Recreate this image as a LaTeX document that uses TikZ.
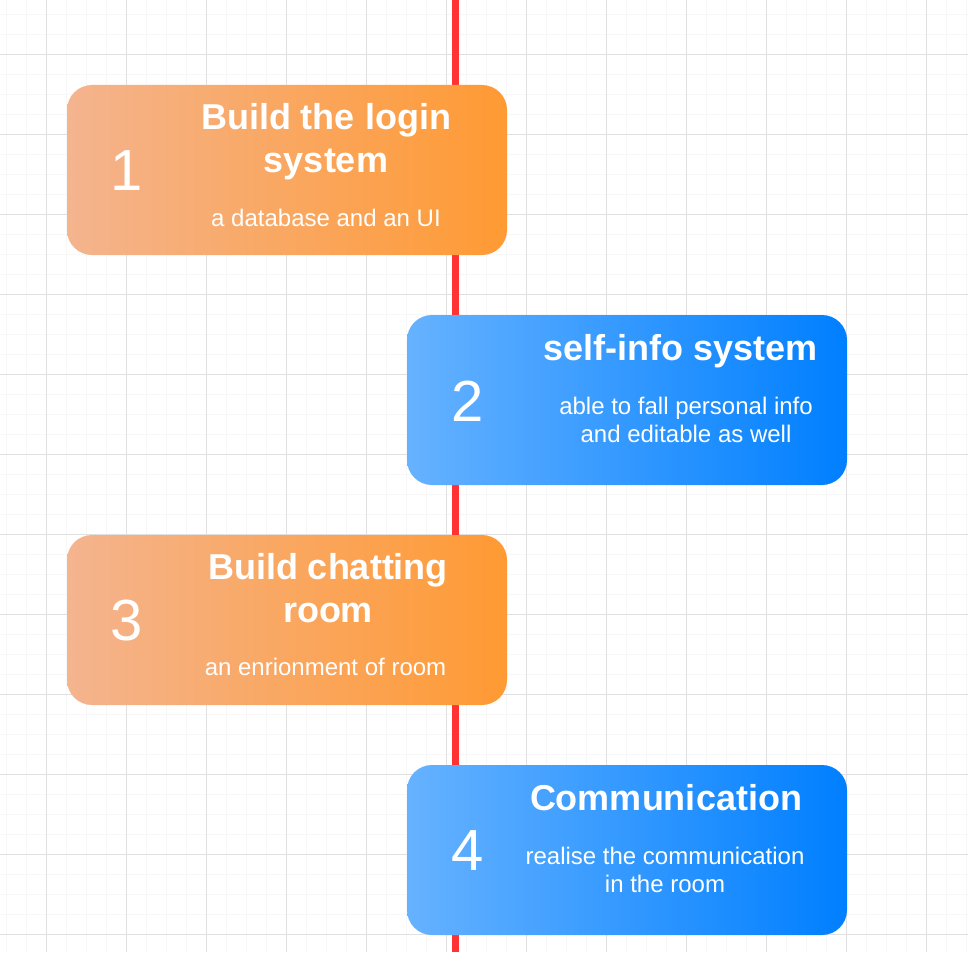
\documentclass[tikz,border=0pt]{standalone}
\usepackage{fontspec}
\setmainfont{Liberation Sans}
\usetikzlibrary{positioning}

\definecolor{orangeL}{HTML}{F4B48E}
\definecolor{orangeR}{HTML}{FF9A33}
\definecolor{blueL}{HTML}{66B2FF}
\definecolor{blueR}{HTML}{007FFF}
\definecolor{gridmajor}{HTML}{E0E0E0}
\definecolor{gridminor}{HTML}{F7F7F7}
\definecolor{timered}{HTML}{FF3333}

\begin{document}
\begin{tikzpicture}[x=1pt,y=-1pt]

\tikzstyle{stepbox}=[rectangle,rounded corners=25pt,minimum width=440pt,minimum height=170pt,inner sep=0pt]
\tikzstyle{orangebox}=[stepbox,left color=orangeL,right color=orangeR]
\tikzstyle{bluebox}=[stepbox,left color=blueL,right color=blueR]
\tikzstyle{num}=[text=white,inner sep=0pt,font={\fontsize{58}{58}\selectfont}]
\tikzstyle{title}=[text=white,inner sep=0pt,anchor=north,align=center,font={\fontsize{36}{43}\selectfont\bfseries}]
\tikzstyle{desc}=[text=white,inner sep=0pt,anchor=north,align=center,font={\fontsize{24}{28}\selectfont}]

\useasboundingbox (0,0) rectangle (968,952);
\fill[white] (0,0) rectangle (968,952);

% grid
\foreach \x in {6.7,26.7,...,966.7} \draw[gridminor,line width=1pt] (\x,0) -- (\x,952);
\foreach \y in {14.3,34.3,...,954.3} \draw[gridminor,line width=1pt] (0,\y) -- (968,\y);
\foreach \x in {46.7,126.7,...,926.7} \draw[gridmajor,line width=1pt] (\x,0) -- (\x,952);
\foreach \y in {54.3,134.3,...,934.3} \draw[gridmajor,line width=1pt] (0,\y) -- (968,\y);

% timeline
\coordinate (top) at (455.5,0);
\coordinate (bottom) at (455.5,952);
\draw[timered,line width=7pt] (top) -- (bottom);

% steps
\node[orangebox] (s1) at (287,170) {};
\node[bluebox]   (s2) at (627,400) {};
\node[orangebox] (s3) at (287,620) {};
\node[bluebox]   (s4) at (627,850) {};

\node[num] (n1) at (127,171) {1};
\node[num] (n2) at (468,401) {2};
\node[num] (n3) at (127,621) {3};
\node[num] (n4) at (468,851) {4};

\node[title] (t1) at (326,103)   {Build the login\\system};
\node[title] (t2) at (680.5,334) {self-info system};
\node[title] (t3) at (328,553.5) {Build chatting\\room};
\node[title] (t4) at (666,784)   {Communication};

\node[desc] (d1) at (326,209)   {a database and an UI};
\node[desc] (d2) at (686,396.5) {able to fall personal info\\and editable as well};
\node[desc] (d3) at (325.5,658) {an enrionment of room};
\node[desc] (d4) at (665,846.8) {realise the communication\\in the room};

\end{tikzpicture}
\end{document}
